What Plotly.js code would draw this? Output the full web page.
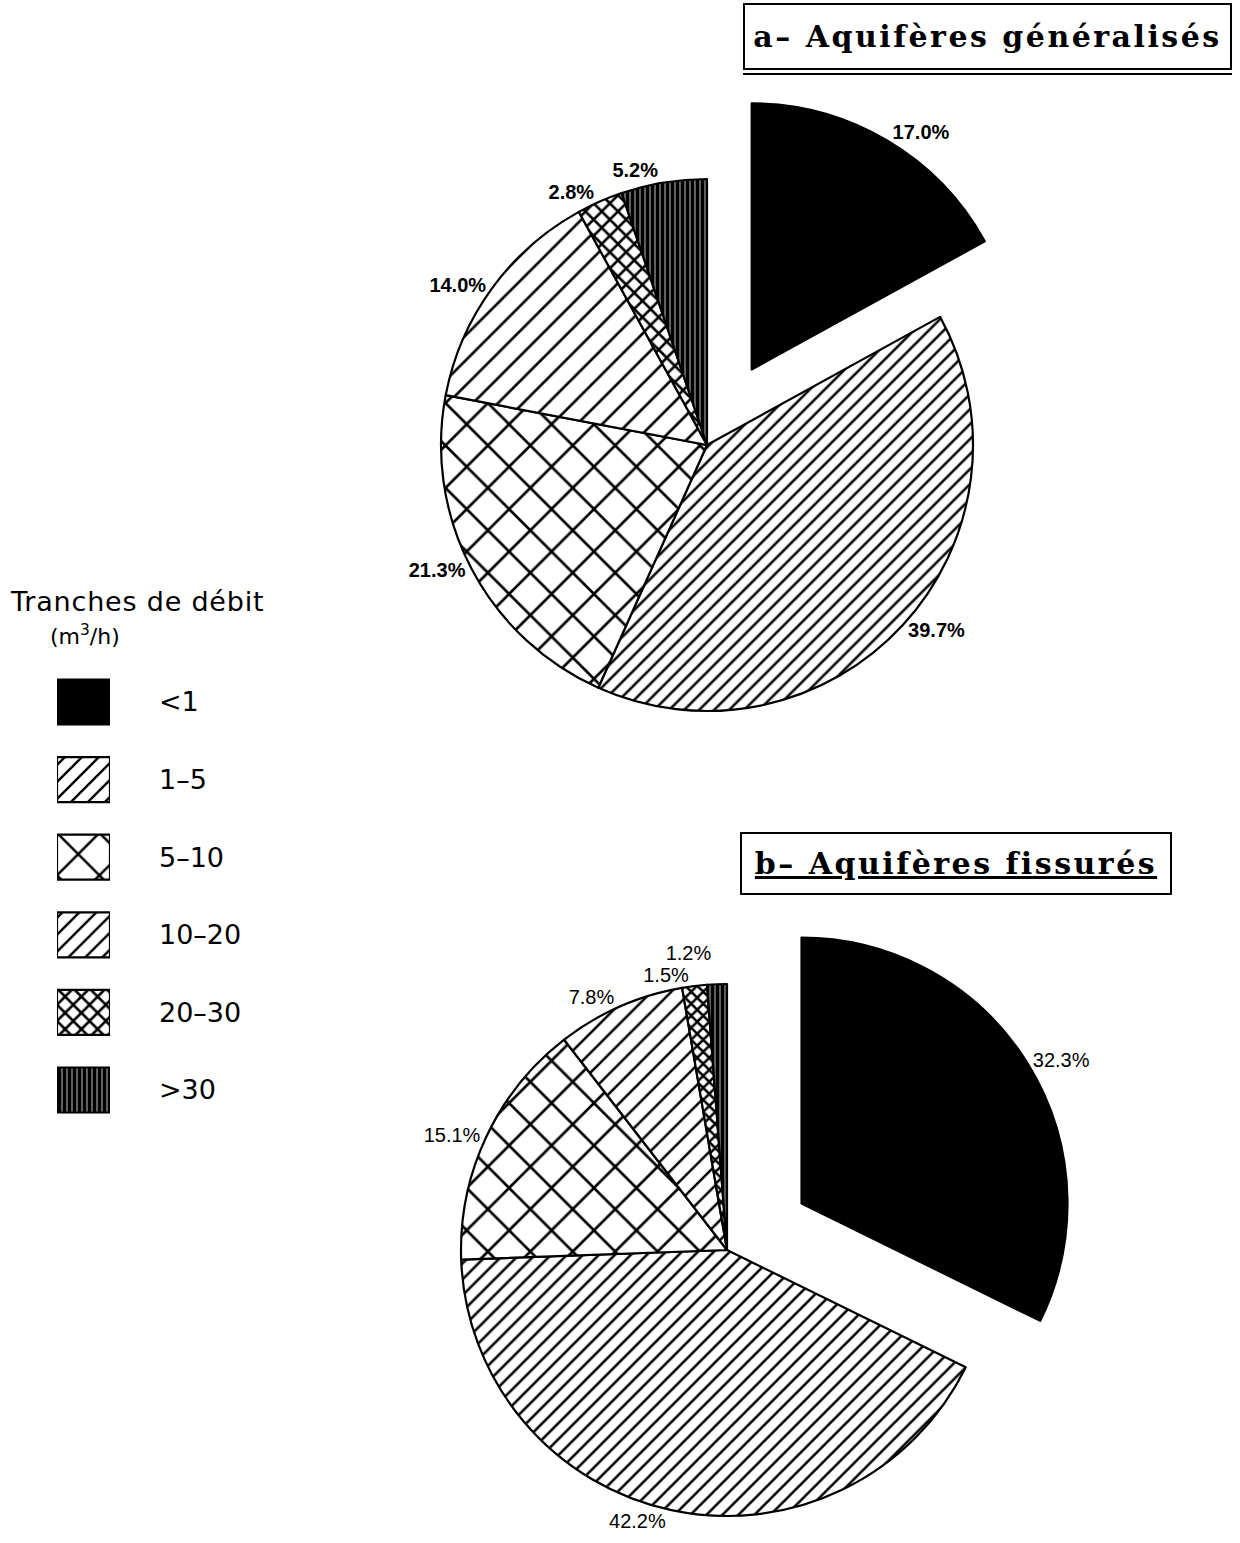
<!DOCTYPE html>
<html>
<head>
<meta charset="utf-8">
<script src="https://cdn.plot.ly/plotly-3.0.1.min.js"></script>
<style>
html, body { margin: 0; padding: 0; background: #fff; overflow: hidden; }
#wrap { width: 1240px; height: 1543px; overflow: hidden; position: relative; }
#chart { width: 1240px; height: 1800px; }
path.textline { stroke-opacity: 0 !important; }
</style>
</head>
<body>
<div id="wrap"><div id="chart"></div></div>
<script>
// ---- data ----
const categories = ['<1', '1–5', '5–10', '10–20', '20–30', '>30'];
const valuesA = [17.0, 39.7, 21.3, 14.0, 2.8, 5.2];   // a- Aquifères généralisés
const valuesB = [32.3, 42.2, 15.1, 7.8, 1.5, 1.2];    // b- Aquifères fissurés
const titleA = 'a– Aquifères généralisés';
const titleB = 'b– Aquifères fissurés';
const legendTitle = 'Tranches de débit';
const legendUnit = '(m<sup>3</sup>/h)';
const swatchLen = [1, 1, 1, 1, 1, 1];

// ---- styles ----
const patShapes = ['', '/', 'x', '/', 'x', '|'];
const sizesA = [8, 10.6, 30, 17.7, 11.5, 5];
const solA = [0.3, 0.24, 0.17, 0.15, 0.4, 0.85];
const sizesB = [8, 11.3, 30, 14, 8.5, 5];
const solB = [0.3, 0.23, 0.17, 0.18, 0.5, 0.85];
const sizesL = [8, 12, 30, 12, 11.5, 5];
const solL = [0.3, 0.2, 0.16, 0.2, 0.4, 0.85];
const blacks = ['#000', '#000', '#000', '#000', '#000', '#000'];
const whites = ['#fff', '#fff', '#fff', '#fff', '#fff', '#fff'];
const pulls = [0.33, 0, 0, 0, 0, 0];

const W = 1240, H = 1800;
function dom(cx, cy, half) {
  return { x: [(cx - half) / W, (cx + half) / W], y: [1 - (cy + half) / H, 1 - (cy - half) / H] };
}
const R = 266, half = R * (1 + 0.33);

const pieA = {
  type: 'pie', values: valuesA, labels: categories, sort: false, direction: 'clockwise', rotation: 0,
  pull: pulls, domain: dom(707, 445, half),
  marker: { colors: blacks, line: { color: '#000', width: 2.2 },
    pattern: { shape: patShapes, size: sizesA, solidity: solA, fgcolor: blacks, bgcolor: whites } },
  textposition: 'outside', texttemplate: '%{value:.1f}%',
  textfont: { family: 'Liberation Sans, Arial, sans-serif', size: 20, weight: 700, color: '#000' },
  hoverinfo: 'skip', automargin: false, showlegend: false
};
const pieB = {
  type: 'pie', values: valuesB, labels: categories, sort: false, direction: 'clockwise', rotation: 0,
  pull: pulls, domain: dom(727, 1250, half),
  marker: { colors: blacks, line: { color: '#000', width: 2.2 },
    pattern: { shape: patShapes, size: sizesB, solidity: solB, fgcolor: blacks, bgcolor: whites } },
  textposition: 'outside', texttemplate: '%{value:.1f}%',
  textfont: { family: 'Liberation Sans, Arial, sans-serif', size: 20, color: '#000' },
  hoverinfo: 'skip', automargin: false, showlegend: false
};
const legendBars = {
  type: 'bar', orientation: 'h', x: swatchLen, y: categories, xaxis: 'x', yaxis: 'y',
  marker: { color: blacks, line: { color: '#000', width: 2.2 },
    pattern: { shape: patShapes, size: sizesL, solidity: solL, fgcolor: blacks, bgcolor: whites } },
  hoverinfo: 'skip', showlegend: false
};

const spaced = (t, px) => '<span style="letter-spacing:' + px + 'px">' + t + '</span>';

const layout = {
  width: W, height: H, margin: { l: 0, r: 0, t: 0, b: 0 },
  paper_bgcolor: '#fff', plot_bgcolor: 'rgba(0,0,0,0)', showlegend: false, bargap: 0.42,
  xaxis: { domain: [57 / W, 110 / W], range: [0, 1], visible: false, fixedrange: true },
  yaxis: { domain: [1 - 1128.8 / H, 1 - 663.2 / H], type: 'category', autorange: 'reversed',
    side: 'right', showgrid: false, zeroline: false, showline: false, ticks: '',
    ticklabelstandoff: 48, tickfont: { family: 'DejaVu Sans, sans-serif', size: 27, color: '#000' } },
  font: { family: 'DejaVu Sans, sans-serif', color: '#000' },
  annotations: [
    { text: '<b>' + spaced(titleA, 2.5) + '</b>', xref: 'paper', yref: 'paper', x: 987.5 / W, y: 1 - 36 / H,
      xanchor: 'center', yanchor: 'middle', showarrow: false, width: 485, height: 63, borderpad: 0,
      bordercolor: '#000', borderwidth: 2, font: { family: 'DejaVu Serif, serif', size: 30, color: '#000' } },
    { text: '<b><u>' + spaced(titleB, 2.5) + '</u></b>', xref: 'paper', yref: 'paper', x: 956 / W, y: 1 - 863.5 / H,
      xanchor: 'center', yanchor: 'middle', showarrow: false, width: 428, height: 59, borderpad: 0,
      bordercolor: '#000', borderwidth: 2, font: { family: 'DejaVu Serif, serif', size: 30, color: '#000' } },
    { text: spaced(legendTitle, 0.8), xref: 'paper', yref: 'paper', x: 137 / W, y: 1 - 601 / H,
      xanchor: 'center', yanchor: 'middle', showarrow: false,
      font: { family: 'DejaVu Sans, sans-serif', size: 27, color: '#000' } },
    { text: legendUnit, xref: 'paper', yref: 'paper', x: 85 / W, y: 1 - 635 / H,
      xanchor: 'center', yanchor: 'middle', showarrow: false,
      font: { family: 'DejaVu Sans, sans-serif', size: 22, color: '#000' } }
  ],
  shapes: [
    { type: 'line', xref: 'paper', yref: 'paper', x0: 743 / W, x1: 1232 / W, y0: 1 - 74 / H, y1: 1 - 74 / H,
      line: { color: '#000', width: 2 } }
  ]
};

Plotly.newPlot('chart', [pieA, pieB, legendBars], layout, { staticPlot: true });
</script>
</body>
</html>
